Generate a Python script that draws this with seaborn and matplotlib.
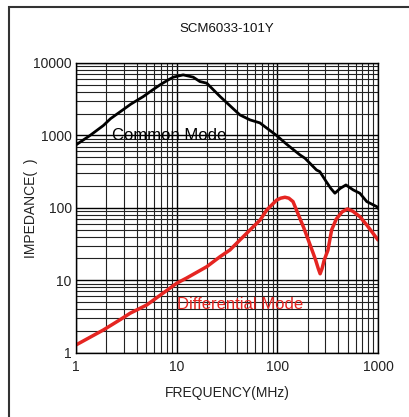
import numpy as np
import pandas as pd
import seaborn as sns
import matplotlib
matplotlib.use('Agg')
import matplotlib.pyplot as plt
from matplotlib.ticker import LogLocator, NullFormatter, FixedLocator
from matplotlib.patches import Rectangle

# Values
cm_freq = [1.0, 1.38, 1.87, 2.2, 2.63, 3.5, 4.66, 5.7, 6.82, 8.0, 9.25, 11.6,
           14.6, 17.0, 19.9, 27, 42.4, 53.5, 67, 98, 123, 167, 188, 245, 264,
           306, 340, 373, 420, 480, 566, 660, 773, 970, 1000]
cm_imp = [740, 1000, 1370, 1700, 2030, 2700, 3440, 4200, 4980, 5700, 6370, 6850,
          6370, 5540, 5260, 3440, 1920, 1637, 1490, 1000, 760, 540, 484, 333, 316,
          230, 185, 159, 185, 207, 177, 159, 122, 104, 98]

dm_freq = [1.0, 1.87, 2.78, 3.44, 5.04, 8.1, 10, 12.5, 19.9, 27, 33.8, 49.6,
           67.5, 78.5, 98.4, 108, 119, 130, 143, 184, 227, 240, 255, 266, 278,
           292, 318, 346, 385, 440, 497, 560, 660, 773, 1000]
dm_imp = [1.28, 2.06, 2.89, 3.5, 4.56, 7.35, 9.1, 10.7, 15.4, 21.2, 26.2, 44.6,
          68, 93.5, 128, 136, 140, 136, 122, 52, 23.6, 19, 14.5, 12.3, 14.5,
          19, 26, 49.5, 70, 88, 96.6, 90, 75.5, 58, 36]

x_ticks = [1, 10, 100, 1000]
x_labels = ['1', '10', '100', '1000']
y_ticks = [1, 10, 100, 1000, 10000]
y_labels = ['1', '10', '100', '1000', '10000']

cm = pd.DataFrame({'freq': cm_freq, 'imp': cm_imp})
dm = pd.DataFrame({'freq': dm_freq, 'imp': dm_imp})

sns.set_style('white')
plt.rcParams['font.family'] = ['Liberation Sans', 'DejaVu Sans']

fig = plt.figure(figsize=(4.1, 4.17), dpi=100)
ax = fig.add_axes([0.1854, 0.1542, 0.7366, 0.6948])

ax.set_xscale('log')
ax.set_yscale('log')

sns.lineplot(data=cm, x='freq', y='imp', ax=ax, color='black', linewidth=2.0)
sns.lineplot(data=dm, x='freq', y='imp', ax=ax, color='#e52521', linewidth=2.5)

ax.set_xlim(1, 1000)
ax.set_ylim(1, 10000)

ax.xaxis.set_major_locator(FixedLocator(x_ticks))
ax.set_xticklabels(x_labels)
ax.yaxis.set_major_locator(FixedLocator(y_ticks))
ax.set_yticklabels(y_labels)
for axis in (ax.xaxis, ax.yaxis):
    axis.set_minor_locator(LogLocator(base=10, subs=range(2, 10)))
    axis.set_minor_formatter(NullFormatter())

ax.grid(which='major', color='black', linewidth=1.0)
ax.grid(which='minor', color='#222222', linewidth=0.8)
ax.tick_params(which='both', length=0, labelsize=10, colors='#222222', pad=3)
ax.tick_params(axis='x', pad=5)
for s in ax.spines.values():
    s.set_color('black')
    s.set_linewidth(1.0)

ax.set_xlabel('FREQUENCY(MHz)', fontsize=10, color='#222222', labelpad=9)
ax.set_ylabel('IMPEDANCE(  )', fontsize=10, color='#222222')
ax.yaxis.set_label_coords(-0.126, 0.5)
ax.set_title('SCM6033-101Y', fontsize=9.5, color='#111111', pad=22)

ax.text(2.28, 1000, 'Common Mode', fontsize=12, color='black', va='center', ha='left')
ax.text(10.1, 4.7, 'Differential Mode', fontsize=12, color='#e52521', va='center', ha='left')

# outer frame of the datasheet picture
fig.add_artist(Rectangle((9 / 410, -0.1), 1.2, 1.1 - 7 / 417, transform=fig.transFigure,
                         fill=False, edgecolor='#333333', linewidth=1.5))

fig.savefig('out.png', dpi=100)
